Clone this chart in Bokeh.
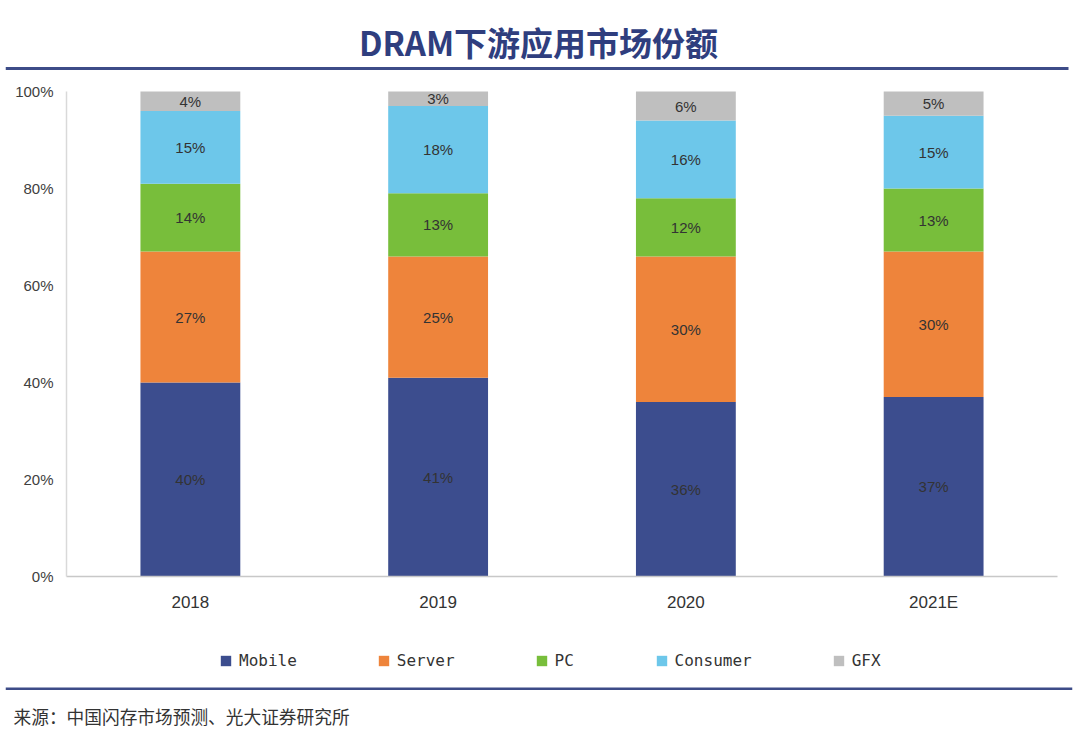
from bokeh.plotting import figure
from bokeh.models import (Range1d, Label, Legend, LegendItem, LinearAxis,
                          FixedTicker, NumeralTickFormatter, ColumnDataSource,
                          LabelSet, BoxAnnotation)
from bokeh.core.properties import value
from bokeh.embed import file_html
from bokeh.resources import INLINE

# ---------------- data ----------------
years = ["2018", "2019", "2020", "2021E"]
segments = ["Mobile", "Server", "PC", "Consumer", "GFX"]
mobile = [40, 41, 36, 37]
server = [27, 25, 30, 30]
pc = [14, 13, 12, 13]
consumer = [15, 18, 16, 15]
gfx = [4, 3, 6, 5]
y_ticks = [0, 20, 40, 60, 80, 100]
colors = ["#3C4D8E", "#EE843B", "#78BE3B", "#6DC7EA", "#BFBFBF"]
title_text = "DRAM下游应用市场份额"
source_text = "来源：中国闪存市场预测、光大证券研究所"

# ---------------- layout (page pixels) ----------------
W, H = 1080, 747
FRAME_L, FRAME_R = 5, 1072          # drawing frame
PLOT_L, PLOT_R = 66, 1057           # category band span
PLOT_T, PLOT_B = 91, 576            # 100% and 0% lines
BLUE = "#2F3E7E"
LINE_BLUE = "#3D4C88"

n = len(years)
xs = (PLOT_R - PLOT_L) / n
ys = (PLOT_B - PLOT_T) / 1.0
x_range = Range1d(-(PLOT_L - FRAME_L) / xs, n + (FRAME_R - PLOT_R) / xs)
y_range = Range1d(-(H - PLOT_B) / ys, 1 + PLOT_T / ys)


def dx(X):
    return (X - PLOT_L) / xs


def dy(Y):
    return (PLOT_B - Y) / ys


vals = {"Mobile": mobile, "Server": server, "PC": pc,
        "Consumer": consumer, "GFX": gfx}
xpos = [i + 0.5 for i in range(n)]
data = {"x": xpos}
for s in segments:
    data[s] = [v / 100 for v in vals[s]]
src = ColumnDataSource(data)

p = figure(width=W, height=H, x_range=x_range, y_range=y_range,
           output_backend="svg", toolbar_location=None, title=None,
           x_axis_location=None, y_axis_location=None,
           min_border_left=FRAME_L, min_border_right=W - FRAME_R,
           min_border_top=0, min_border_bottom=0, outline_line_color=None)
p.grid.visible = False
rs = p.vbar_stack(segments, x="x", width=0.403, color=colors, source=src,
                  line_color=None)

# data labels
lx, ly, lt = [], [], []
for i in range(n):
    base = 0
    for s in segments:
        v = vals[s][i] / 100
        lx.append(xpos[i])
        ly.append(base + v / 2)
        lt.append(f"{vals[s][i]}%")
        base += v
lab_src = ColumnDataSource(dict(x=lx, y=ly, t=lt))
p.add_layout(LabelSet(x="x", y="y", text="t", source=lab_src,
                      text_align="center", text_baseline="middle",
                      text_font_size="15px", text_font=value("Liberation Sans"),
                      text_color="#333333"))

# axes
yax = LinearAxis(fixed_location=0, bounds=(0, 1),
                 ticker=FixedTicker(ticks=[t / 100 for t in y_ticks]),
                 formatter=NumeralTickFormatter(format="0%"))
xax = LinearAxis(fixed_location=0, bounds=(0, n),
                 ticker=FixedTicker(ticks=xpos),
                 major_label_overrides={xp: y for xp, y in zip(xpos, years)})
for ax in (xax, yax):
    ax.axis_line_color = "#C8C8C8"
    ax.axis_line_width = 1.5
    ax.major_tick_line_color = None
    ax.minor_tick_line_color = None
    ax.major_tick_in = 0
    ax.major_tick_out = 0
    ax.major_label_text_font = "Liberation Sans"
    ax.major_label_text_font_size = "15px"
    ax.major_label_text_color = "#404040"
yax.axis_line_color = "#D9D9D9"
yax.major_label_standoff = 13
xax.major_label_standoff = 16
xax.major_label_text_font_size = "17px"
xax.major_label_text_color = "#333333"
p.add_layout(yax, "left")
p.add_layout(xax, "below")

# legend
legend = Legend(items=[LegendItem(label=s, renderers=[r]) for s, r in zip(segments, rs)],
                orientation="horizontal", location=(219 - FRAME_L, H - 670),
                label_text_font="DejaVu Sans Mono", label_text_font_size="16px",
                label_text_color="#333333", glyph_width=13, glyph_height=13,
                label_height=20, label_standoff=7, spacing=80,
                border_line_color=None, background_fill_alpha=0,
                margin=0, padding=0)
p.add_layout(legend, "center")

# header / footer decorations
p.add_layout(Label(x=dx(538), y=dy(41), text=title_text, text_align="center",
                   text_baseline="middle", text_font="Noto Sans CJK SC",
                   text_font_style="bold", text_font_size="33px",
                   text_color=BLUE))
p.add_layout(BoxAnnotation(left=dx(5), right=dx(1068), top=dy(66.5), bottom=dy(69.5),
                           fill_color=LINE_BLUE, fill_alpha=1, line_color=None))
p.add_layout(BoxAnnotation(left=dx(5), right=dx(1072), top=dy(687), bottom=dy(689.5),
                           fill_color=LINE_BLUE, fill_alpha=1, line_color=None))
p.add_layout(Label(x=dx(13), y=dy(715), text=source_text, text_align="left",
                   text_baseline="middle", text_font="Noto Sans CJK SC",
                   text_font_size="17.7px", text_color="#333333"))

open("out.html", "w").write(file_html(p, INLINE))
